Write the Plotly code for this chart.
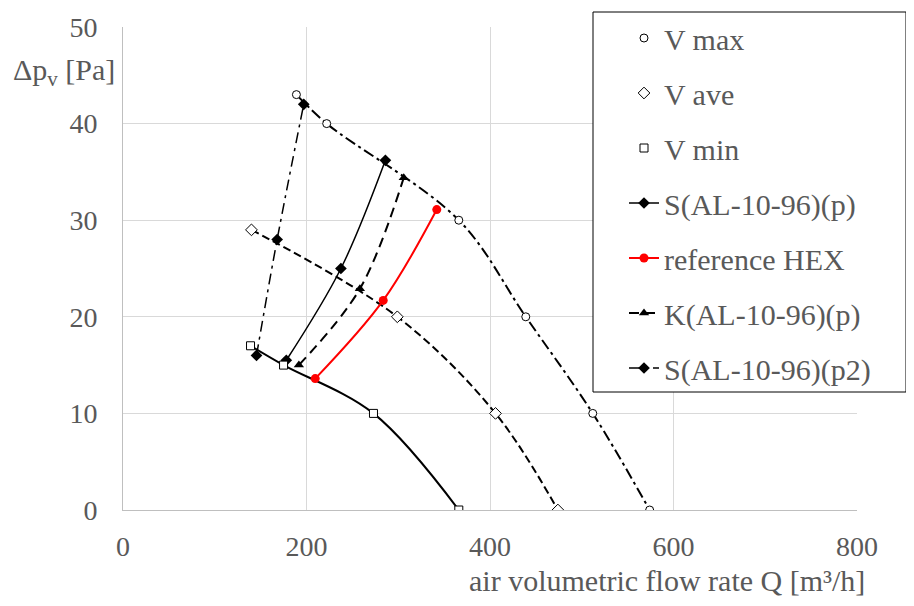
import plotly.graph_objects as go

# Fan curve / measured points
vmax_q = [189, 222, 366, 439, 512, 574]
vmax_p = [43, 40, 30, 20, 10, 0]
vave_q = [140, 299, 406, 474]
vave_p = [29, 20, 10, 0]
vmin_q = [139, 175, 273, 366]
vmin_p = [17, 15, 10, 0]

# Heat exchanger characteristics
sp_q = [178, 237.5, 286]
sp_p = [15.5, 25.0, 36.2]
ref_q = [209.5, 283.6, 342]
ref_p = [13.6, 21.7, 31.1]
kp_q = [191.7, 258.2, 306]
kp_p = [15.0, 22.9, 34.4]
sp2_q = [145.5, 168, 197]
sp2_p = [16.0, 28.0, 42.0]

x_ticks = [0, 200, 400, 600, 800]
y_ticks = [0, 10, 20, 30, 40, 50]

FONT = "Liberation Serif, DejaVu Serif, serif"
GRAY = "#595959"
FS_TICK = 28
FS = 30

OFF = 8  # page body margin
W, H = 906, 598
ML, MT = 123 - OFF, 27 - OFF
PW, PH = 734, 483
MR = W - ML - PW
MB = H - MT - PH


def px_x(p):  # page pixel -> paper
    return (p - OFF - ML) / PW


def px_y(p):
    return (MT + PH - (p - OFF)) / PH


SM = 1.0
fig = go.Figure()

# fan curves (not in legend)
fig.add_trace(go.Scatter(x=vmin_q, y=vmin_p, mode="lines", showlegend=False,
                         line=dict(color="black", width=2, shape="spline", smoothing=SM), hoverinfo="skip"))
fig.add_trace(go.Scatter(x=vave_q, y=vave_p, mode="lines", showlegend=False,
                         line=dict(color="black", width=2, shape="spline", smoothing=SM, dash="8px,4px"), hoverinfo="skip"))
fig.add_trace(go.Scatter(x=vmax_q, y=vmax_p, mode="lines", showlegend=False,
                         line=dict(color="black", width=2, shape="spline", smoothing=SM, dash="11px,4px,3px,4px"), hoverinfo="skip"))

# HEX series
fig.add_trace(go.Scatter(x=sp_q, y=sp_p, mode="lines+markers", name="S(AL-10-96)(p)",
                         legendrank=4, legendgroup="g4",
                         line=dict(color="black", width=1.5, shape="spline"),
                         marker=dict(symbol="diamond", size=9, color="black")))
fig.add_trace(go.Scatter(x=ref_q, y=ref_p, mode="lines+markers", name="reference HEX",
                         legendrank=5, legendgroup="g5",
                         line=dict(color="#ff0000", width=2, shape="spline"),
                         marker=dict(symbol="circle", size=9, color="#ff0000")))
fig.add_trace(go.Scatter(x=kp_q, y=kp_p, mode="lines+markers", name="K(AL-10-96)(p)",
                         legendrank=6, legendgroup="g6",
                         line=dict(color="black", width=2, shape="spline", dash="10px,6px"),
                         marker=dict(symbol="triangle-up", size=9, color="black")))
fig.add_trace(go.Scatter(x=sp2_q, y=sp2_p, mode="lines+markers", name="S(AL-10-96)(p2)",
                         legendrank=7, legendgroup="g7",
                         line=dict(color="black", width=1.5, shape="spline", dash="11px,5px,3px,5px"),
                         marker=dict(symbol="diamond", size=9, color="black")))

# point markers
fig.add_trace(go.Scatter(x=vmax_q, y=vmax_p, mode="markers", name="V max",
                         legendrank=1, legendgroup="g1",
                         marker=dict(symbol="circle", size=8, color="white",
                                     line=dict(color="black", width=1))))
fig.add_trace(go.Scatter(x=vave_q, y=vave_p, mode="markers", name="V ave",
                         legendrank=2, legendgroup="g2",
                         marker=dict(symbol="diamond", size=9, color="white",
                                     line=dict(color="black", width=1))))
fig.add_trace(go.Scatter(x=vmin_q, y=vmin_p, mode="markers", name="V min",
                         legendrank=3, legendgroup="g3",
                         marker=dict(symbol="square", size=8, color="white",
                                     line=dict(color="black", width=1))))

fig.update_layout(
    width=W, height=H,
    margin=dict(l=ML, r=MR, t=MT, b=MB, autoexpand=False),
    paper_bgcolor="white", plot_bgcolor="white",
    font=dict(family=FONT, size=FS, color=GRAY),
    xaxis=dict(range=[0, 800], tickvals=x_ticks, showgrid=True, gridcolor="#d9d9d9",
               gridwidth=1, zeroline=False, showline=True, linecolor="#bfbfbf",
               linewidth=1, ticks="", ticklabelstandoff=11, automargin=False,
               tickfont=dict(size=FS_TICK, color=GRAY, family=FONT)),
    yaxis=dict(range=[0, 50], tickvals=y_ticks, showgrid=True, gridcolor="#d9d9d9",
               gridwidth=1, zeroline=False, showline=True, linecolor="#bfbfbf",
               linewidth=1, ticks="", ticklabelstandoff=19, automargin=False,
               tickfont=dict(size=FS_TICK, color=GRAY, family=FONT)),
    legend=dict(x=px_x(624), y=px_y(12), xanchor="left", yanchor="top",
                bgcolor="rgba(0,0,0,0)", borderwidth=0, tracegroupgap=13,
                maxheight=600,
                font=dict(size=FS, color=GRAY, family=FONT)),
    shapes=[dict(type="rect", xref="paper", yref="paper",
                 x0=px_x(593), x1=px_x(906), y0=px_y(392), y1=px_y(12),
                 line=dict(color="black", width=1), fillcolor="white", layer="above")],
    annotations=[
        dict(text="Δp<sub>v</sub> [Pa]", xref="paper", yref="paper",
             x=px_x(117), y=px_y(72), xanchor="right", yanchor="middle",
             showarrow=False, font=dict(size=FS, color=GRAY, family=FONT)),
        dict(text="air volumetric flow rate Q [m³/h]", xref="paper", yref="paper",
             x=px_x(867), y=px_y(580), xanchor="right", yanchor="middle",
             showarrow=False, font=dict(size=FS, color=GRAY, family=FONT)),
    ],
)

fig.write_html("out.html")
